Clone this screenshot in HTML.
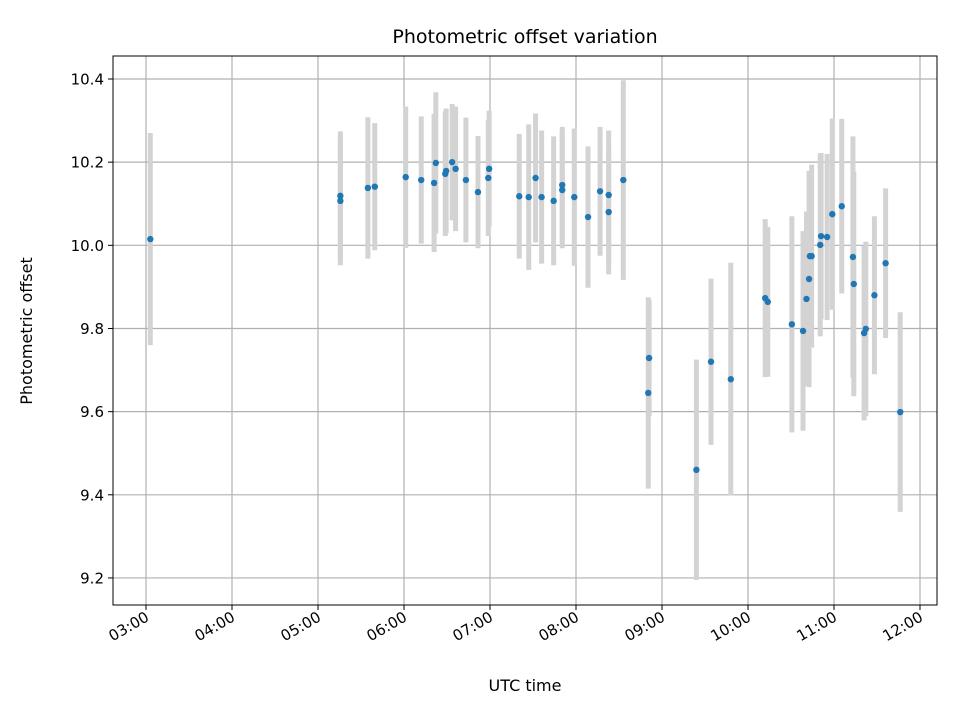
<!DOCTYPE html>
<html><head><meta charset="utf-8"><style>
html,body{margin:0;padding:0;background:#fff;}
svg text{font-family:"DejaVu Sans","Liberation Sans",sans-serif;fill:#000;}
</style></head><body>
<svg id="chart" width="960" height="720" viewBox="0 0 960 720" xmlns="http://www.w3.org/2000/svg">
<rect width="960" height="720" fill="#fff"/>
<g id="grid"></g>
<g id="errs"></g>
<g id="pts"></g>
<rect x="113" y="56" width="824" height="549" fill="none" stroke="#000" stroke-width="1"/>
<g id="ticks"></g>
<text x="525" y="43" font-size="19" text-anchor="middle">Photometric offset variation</text>
<text x="525" y="691" font-size="16" text-anchor="middle">UTC time</text>
<text x="32" y="331" font-size="16" text-anchor="middle" transform="rotate(-90 32 331)">Photometric offset</text>
</svg>
<script>
const times=[3.05,5.26,5.26,5.58,5.66,6.02,6.2,6.35,6.37,6.48,6.49,6.56,6.6,6.72,6.86,6.98,6.99,7.34,7.45,7.53,7.6,7.74,7.84,7.84,7.98,8.14,8.28,8.38,8.38,8.55,8.85,8.84,9.4,9.57,9.8,10.2,10.23,10.51,10.64,10.68,10.71,10.72,10.74,10.84,10.85,10.92,10.98,11.09,11.22,11.23,11.35,11.37,11.47,11.6,11.77];
const offsets=[10.015,10.119,10.107,10.138,10.141,10.164,10.157,10.15,10.198,10.172,10.179,10.2,10.184,10.157,10.128,10.162,10.184,10.118,10.116,10.162,10.116,10.107,10.145,10.133,10.116,10.068,10.13,10.121,10.08,10.157,9.729,9.645,9.46,9.72,9.678,9.873,9.864,9.81,9.794,9.871,9.919,9.974,9.974,10.001,10.022,10.02,10.075,10.094,9.972,9.907,9.789,9.799,9.88,9.957,9.599];
const errors=[0.255,0.155,0.155,0.17,0.153,0.17,0.153,0.166,0.17,0.15,0.15,0.14,0.15,0.15,0.135,0.14,0.14,0.15,0.175,0.155,0.16,0.155,0.14,0.14,0.165,0.17,0.155,0.155,0.15,0.24,0.14,0.23,0.265,0.2,0.28,0.19,0.18,0.26,0.24,0.21,0.26,0.2,0.22,0.22,0.2,0.2,0.23,0.21,0.29,0.27,0.21,0.21,0.19,0.18,0.24];
const yTicks=[9.2,9.4,9.6,9.8,10.0,10.2,10.4];
const xTickHours=[3,4,5,6,7,8,9,10,11,12];
const xTickLabels=["03:00","04:00","05:00","06:00","07:00","08:00","09:00","10:00","11:00","12:00"];
const X=h=>146+(h-3)*86;
const Y=v=>79+(10.4-v)*415.8;
const NS="http://www.w3.org/2000/svg";
function mk(tag,attrs,parent){const e=document.createElementNS(NS,tag);for(const k in attrs)e.setAttribute(k,attrs[k]);parent.appendChild(e);return e;}
const grid=document.getElementById('grid'),ticks=document.getElementById('ticks');
yTicks.forEach(v=>{
 const g=mk('line',{x1:113,x2:937,y1:Y(v),y2:Y(v),stroke:'#b0b0b0','stroke-width':1.2},grid);
 
 
 mk('line',{x1:108,x2:113,y1:Y(v),y2:Y(v),stroke:'#000'},ticks);
 const t=mk('text',{x:104,y:Y(v)+5.5,'font-size':15,'text-anchor':'end'},ticks);
 
 
 t.textContent=v.toFixed(1);
});
xTickHours.forEach((h,i)=>{
 const g=mk('line',{x1:X(h),x2:X(h),y1:56,y2:605,stroke:'#b0b0b0','stroke-width':1.2},grid);
 
 
 mk('line',{x1:X(h),x2:X(h),y1:605,y2:610,stroke:'#000'},ticks);
 const x=X(h)+4,y=620;
 const t=mk('text',{x:x,y:y,'font-size':15,'text-anchor':'end',transform:`rotate(-30 ${x} ${y})`},ticks);
 
 
 t.textContent=xTickLabels[i];
});
const errs=document.getElementById('errs'),pts=document.getElementById('pts');
times.forEach((h,i)=>{
 const e=mk('line',{x1:X(h),x2:X(h),y1:Y(offsets[i]+errors[i]),y2:Y(offsets[i]-errors[i]),stroke:'#d3d3d3','stroke-width':5},errs);
 
 
 const c=mk('circle',{cx:X(h),cy:Y(offsets[i]),r:3.2,fill:'#1f77b4'},pts);
 
 
});
</script>
</body></html>
